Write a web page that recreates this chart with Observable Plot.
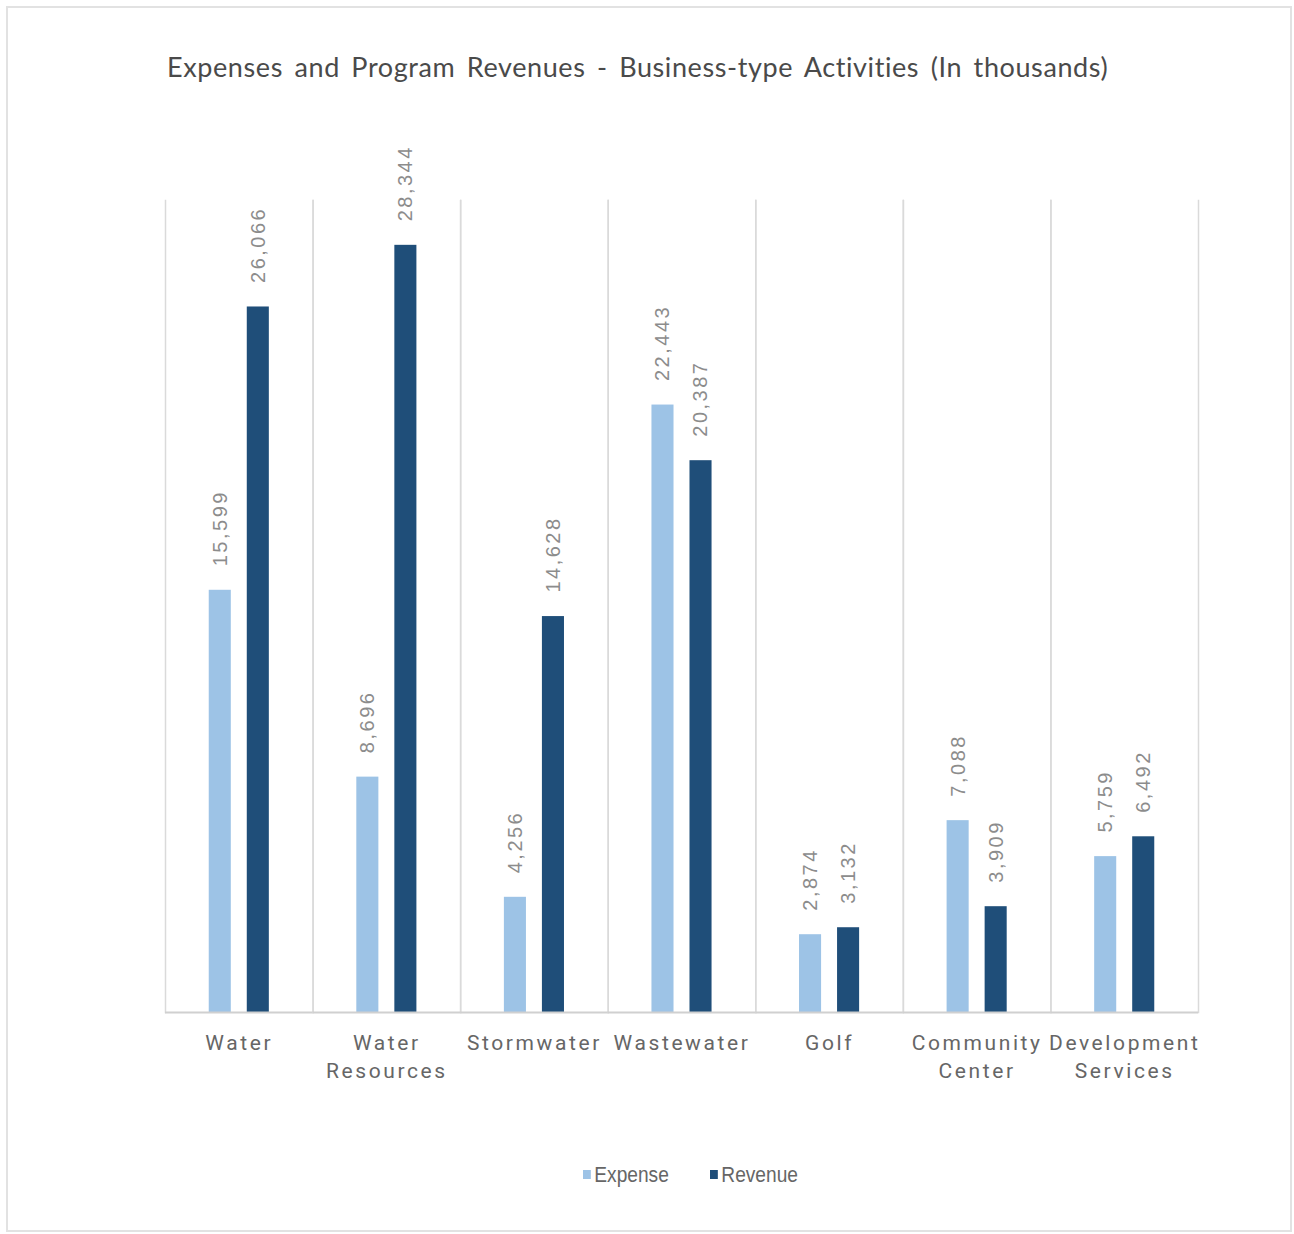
<!DOCTYPE html>
<html>
<head>
<meta charset="utf-8">
<script src="https://cdn.jsdelivr.net/npm/d3@7"></script>
<script src="https://cdn.jsdelivr.net/npm/@observablehq/plot@0.6"></script>
<style>
  html, body { margin: 0; padding: 0; background: #fff; }
  #frame {
    position: absolute; left: 6px; top: 6px; width: 1286px; height: 1226px;
    box-sizing: border-box; border: 2px solid #e2e2e2; background: #fff;
  }
  #title {
    margin: 44px 0 0 159px; height: 30px; line-height: 30px;
    font-family: Lato, "Open Sans", sans-serif; font-size: 27px; color: #4a4a4a;
    letter-spacing: 0.6px; word-spacing: 4px; white-space: nowrap;
  }
  #chart svg { display: block; }
  .legend-item {
    position: absolute; top: 1154px; height: 26px; line-height: 26px;
    font-family: "Liberation Sans Narrow", "Liberation Sans", Arial, sans-serif; font-size: 22px; color: #666;
    transform: scaleX(0.87); transform-origin: left center; white-space: nowrap;
  }
  .legend-item span.sw { display: inline-block; width: 9px; height: 9px; margin-right: 4px; vertical-align: middle; position: relative; top: -2px; }
  g[aria-label="fx-axis tick label"] text { letter-spacing: 2.6px; }
  g[aria-label="text"] text { letter-spacing: 2.5px; }
</style>
</head>
<body>
<div id="frame">
  <div id="title">Expenses and Program Revenues - Business-type Activities (In thousands)</div>
  <div id="chart"></div>
</div>
<script>
const categories = ["Water", "Water Resources", "Stormwater", "Wastewater", "Golf", "Community Center", "Development Services"];
const seriesNames = ["Expense", "Revenue"];
const expense = [15599, 8696, 4256, 22443, 2874, 7088, 5759];
const revenue = [26066, 28344, 14628, 20387, 3132, 3909, 6492];
const colors = ["#9DC3E6", "#1F4E79"];

const data = categories.flatMap((c, i) => [
  {category: c, series: seriesNames[0], value: expense[i]},
  {category: c, series: seriesNames[1], value: revenue[i]}
]);

const chart = Plot.plot({
  width: 1278,
  height: 1020,
  marginLeft: 157,
  marginRight: 88,
  marginTop: 118,
  marginBottom: 90,
  style: {fontFamily: "Roboto, 'Liberation Sans', sans-serif", background: "#fff"},
  fx: {domain: categories, padding: 0, round: false, label: null},
  x: {domain: seriesNames, paddingInner: 0.42, paddingOuter: 1.15, round: false, axis: null},
  y: {domain: [0, 30000], axis: null},
  color: {domain: seriesNames, range: colors},
  marks: [
    Plot.frame({anchor: "left", stroke: "#dadada", strokeWidth: 1.5}),
    Plot.frame({anchor: "right", stroke: "#dadada", strokeWidth: 1.5}),
    Plot.barY(data, {fx: "category", x: "series", y: "value", fill: "series"}),
    Plot.ruleY([0], {stroke: "#d0d0d0", strokeWidth: 2}),
    Plot.text(data, {
      fx: "category", x: "series", y: "value",
      text: d => d3.format(",")(d.value),
      rotate: -90, textAnchor: "start", dy: -24,
      fill: "#8c8c8c", fontSize: 20, fontFamily: "'Liberation Sans', Arial, sans-serif"
    }),
    Plot.axisFx({
      anchor: "bottom", tickSize: 0, tickPadding: 17, label: null,
      tickFormat: d => d.replace(" ", "\n"),
      fontSize: 21, lineHeight: 1.35, fill: "#666"
    })
  ]
});
document.getElementById("chart").append(chart);

const frame = document.getElementById("frame");
const legendLeft = [575, 702];
seriesNames.forEach((s, i) => {
  const item = document.createElement("div");
  item.className = "legend-item";
  item.style.left = legendLeft[i] + "px";
  item.innerHTML = `<span class="sw" style="background:${colors[i]}"></span>${s}`;
  frame.append(item);
});
</script>
</body>
</html>
